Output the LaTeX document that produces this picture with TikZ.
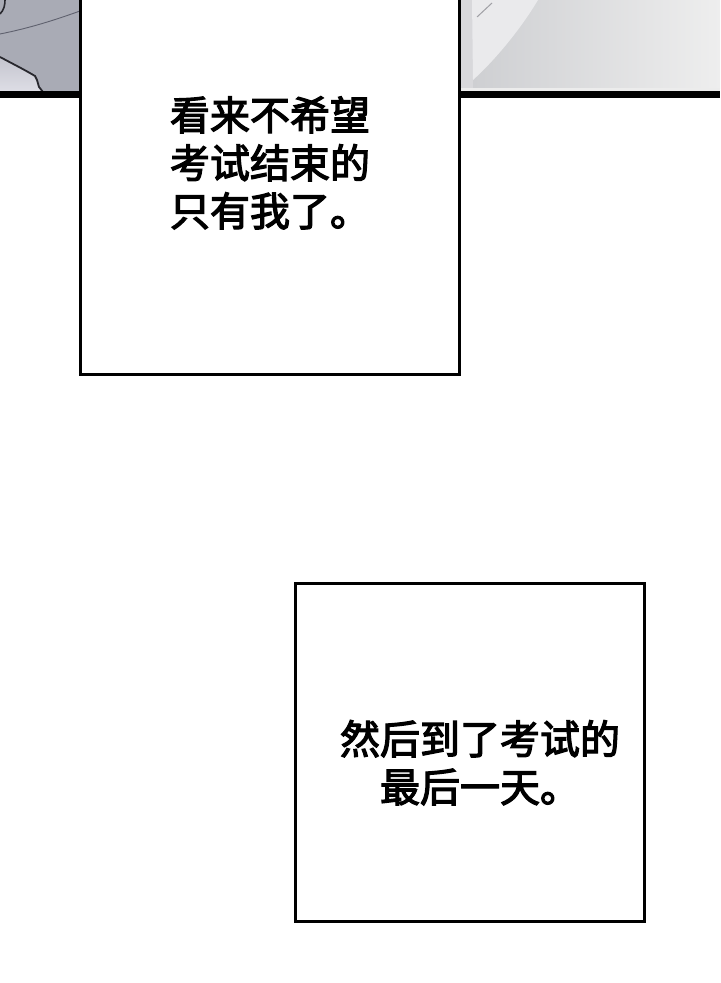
\documentclass[tikz,border=0pt]{standalone}
\usepackage{fontspec}
\newfontfamily\cjk[FakeBold=3]{Noto Sans CJK SC}
\definecolor{lpgray}{RGB}{169,171,181}
\definecolor{lplightA}{RGB}{196,197,206}
\definecolor{lplightB}{RGB}{222,222,230}
\definecolor{lpthin}{RGB}{95,97,110}
\definecolor{lpink}{RGB}{40,40,46}
\definecolor{rpstrip}{RGB}{216,216,219}
\definecolor{rplight}{RGB}{234,234,236}
\definecolor{rpA}{RGB}{206,207,210}
\definecolor{rpB}{RGB}{238,238,238}
\definecolor{rpthin}{RGB}{160,160,165}
\definecolor{rpedge}{RGB}{236,236,236}
\tikzset{
  capbox/.style={draw=black, fill=white, line width=1.5pt},
  captext/.style={font=\cjk\fontsize{20pt}{24pt}\selectfont, inner sep=0pt, anchor=base, text=black},
  panelbar/.style={fill=black},
}
\begin{document}
\begin{tikzpicture}[x=0.5pt,y=-0.5pt]
\useasboundingbox (0,0) rectangle (720,983);
\fill[white] (0,0) rectangle (720,983);
% left panel (cut-off artwork)
\fill[lpgray] (0,0) rectangle (80,92);
\shade[top color=lplightA, bottom color=lplightB] (0,57) .. controls (15,65) and (25,70) .. (35,76) -- (37,80) -- (39,87) -- (43,92) -- (0,92) -- cycle;
\draw[lpink, line width=0.9pt] (0,57) .. controls (15,65) and (25,70) .. (35,76) -- (37,80) -- (39,87) -- (43,92);
\draw[lpthin, line width=0.45pt] (0,34) .. controls (30,28) and (55,20) .. (80,11);
\draw[lpink, line width=0.8pt] (0,14) .. controls (4,10) and (5,5) .. (5,0);
% right panel (cut-off artwork)
\fill[rpstrip] (459,0) rectangle (720,92);
\shade[left color=rpA, right color=rpB] (473,0) rectangle (720,89);
\fill[rplight] (472,0) -- (538,0) .. controls (520,30) and (495,60) .. (473,80) -- cycle;
\draw[rpthin, line width=0.5pt] (477,17) -- (492,3);
\fill[rpedge] (459,88.5) rectangle (720,91.5);
% panel borders
\fill[panelbar] (0,91.5) rectangle (80,98);
\fill[panelbar] (459,91.5) rectangle (720,98);
% caption boxes
\draw[capbox] (80,-10) rectangle (459,374.5);
\draw[capbox] (295.5,583) rectangle (644,921.5);
% texts
\node[captext] (a1) at (270,130) {看来不希望};
\node[captext] (a2) at (270,178) {考试结束的};
\node[captext] (a3) at (270,226) {只有我了。};
\node[captext] (b1) at (480,754) {然后到了考试的};
\node[captext] (b2) at (480,802) {最后一天。};
\end{tikzpicture}
\end{document}
